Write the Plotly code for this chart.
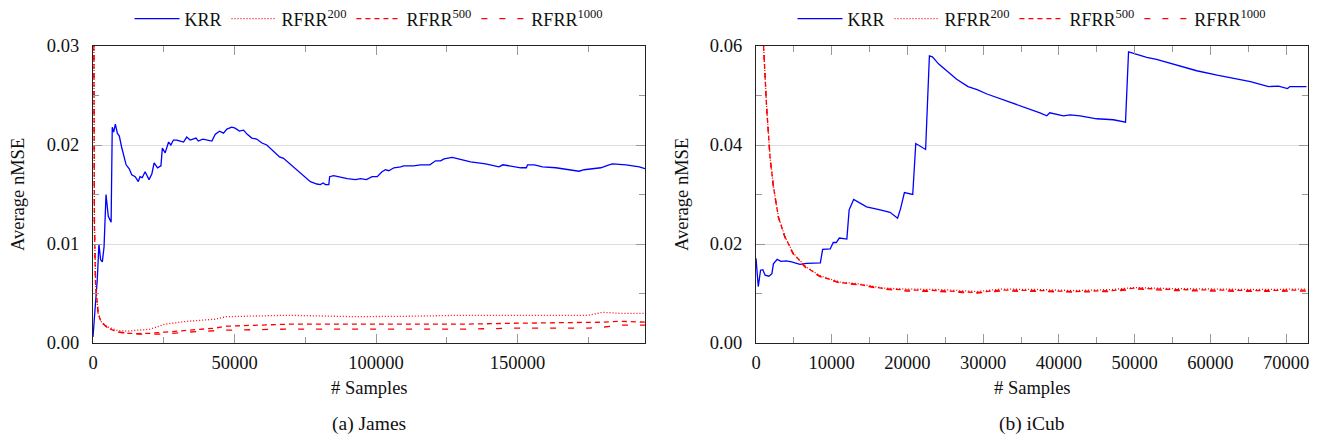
import plotly.graph_objects as go

# ---------------- (a) James ----------------
james_krr_x = [0, 700, 1500, 2100, 2700, 3300, 3900, 4600, 5400, 6400, 6800, 7300, 7900, 8600, 9300,
               10100, 10700, 11700, 12800, 13700, 14900, 16000, 16600, 17400, 18400, 19800, 20800,
               21600, 22800, 24000, 24500, 25500, 26700, 27500, 28400, 29600, 30800, 32000, 33100,
               34300, 36400, 37200, 38800, 40800, 42000, 43200, 44700, 46100, 47300, 49000, 50200,
               51700, 53200, 54400, 56100, 57800, 59700, 61400, 63200, 65900, 67300, 72100, 76800,
               79100, 80300, 81300, 82100, 83300, 83600, 85000, 87400, 89800, 92700, 94500, 96600,
               98600, 100400, 102100, 103300, 104500, 106300, 108700, 109800, 113300, 115700, 119000,
               121000, 122800, 124000, 126900, 130500, 133400, 138700, 143400, 144800, 146900, 151100,
               153100, 153500, 155900, 158800, 163500, 168200, 171700, 173500, 177000, 179400, 182300,
               183500, 188300, 193000, 195000]
james_krr_y = [0.0006, 0.003, 0.0064, 0.0100, 0.0084, 0.0082, 0.0097, 0.0150, 0.0128, 0.0122, 0.0218,
               0.0213, 0.0221, 0.0212, 0.0209, 0.0198, 0.0190, 0.0180, 0.0176, 0.0170, 0.0168, 0.0163,
               0.0168, 0.0167, 0.0173, 0.0165, 0.0171, 0.0182, 0.0177, 0.0179, 0.0197, 0.0192, 0.0203,
               0.0200, 0.0205, 0.0205, 0.0204, 0.0203, 0.0208, 0.0205, 0.0207, 0.0204, 0.0206, 0.0205,
               0.0204, 0.0211, 0.0214, 0.0212, 0.0216, 0.0218, 0.0217, 0.0214, 0.0215, 0.0211, 0.0207,
               0.0206, 0.0202, 0.0200, 0.0195, 0.0188, 0.01865, 0.01747, 0.0163, 0.01606, 0.0160,
               0.01616, 0.0160, 0.0160, 0.0168, 0.0169, 0.01673, 0.0166, 0.0165, 0.0166, 0.0165, 0.0168,
               0.0168, 0.0173, 0.0175, 0.0174, 0.0177, 0.01778, 0.0179, 0.0179, 0.0180, 0.0180, 0.0184,
               0.0184, 0.0186, 0.01875, 0.0185, 0.0183, 0.0181, 0.0178, 0.0180, 0.0179, 0.0177, 0.0177,
               0.0180, 0.0180, 0.0178, 0.0177, 0.0175, 0.01735, 0.0175, 0.0176, 0.0177, 0.0180, 0.0181,
               0.0180, 0.0178, 0.0176]

james_rf_x = [0, 200, 500, 900, 1300, 1800, 2900, 5300, 8800, 12400, 15900, 20000, 25400, 33600,
              43000, 47200, 69000, 92600, 111500, 130000, 150000, 175000, 180000, 186000, 195000]
james_rf200_y = [0.06, 0.03, 0.012, 0.006, 0.0045, 0.0030, 0.00215, 0.0016, 0.00125, 0.0012,
                 0.0013, 0.00138, 0.0019, 0.0022, 0.0024, 0.00266, 0.0028, 0.00266, 0.0027, 0.0028,
                 0.0028, 0.0028, 0.0031, 0.0030, 0.0030]
james_rf500_y = [0.06, 0.03, 0.012, 0.006, 0.0045, 0.0030, 0.0021, 0.0015, 0.0011, 0.00098,
                 0.00095, 0.00098, 0.0011, 0.0013, 0.0015, 0.0017, 0.0019, 0.0019, 0.0019, 0.0019,
                 0.0020, 0.0021, 0.0021, 0.0022, 0.0021]
james_rf1000_y = [0.06, 0.03, 0.012, 0.006, 0.0045, 0.0030, 0.0021, 0.0015, 0.0011, 0.00098,
                  0.0009, 0.0009, 0.0009, 0.0011, 0.0012, 0.0013, 0.0014, 0.0014, 0.0014, 0.0014,
                  0.0015, 0.0015, 0.0016, 0.0018, 0.0018]

# ---------------- (b) iCub ----------------
icub_krr_x = [0, 300, 600, 900, 1200, 1700, 2100, 2300, 2800, 3300, 4000, 4700, 5800, 6700, 8500,
              8800, 9800, 10200, 10600, 11000, 12000, 12300, 12900, 14600, 16400, 17700, 18700, 19100,
              19600, 20700, 21100, 22400, 22900, 23300, 24100, 26500, 28000, 29200, 30500, 31800,
              33100, 34900, 36200, 37500, 38400, 38800, 40600, 41500, 42800, 45000, 47200, 48800,
              49200, 49800, 51600, 52900, 55100, 58200, 60900, 63500, 65300, 67700, 69000, 70200,
              70500, 71400, 72700]
icub_krr_y = [0.0171, 0.0114, 0.0147, 0.0148, 0.0137, 0.0135, 0.0140, 0.0160, 0.0169, 0.0165, 0.0166,
              0.0164, 0.0159, 0.0161, 0.0162, 0.0189, 0.0190, 0.0203, 0.0203, 0.0212, 0.0210, 0.0269,
              0.0290, 0.0275, 0.0269, 0.0264, 0.0252, 0.0272, 0.0304, 0.0300, 0.0403, 0.0391, 0.0580,
              0.0578, 0.0564, 0.0533, 0.0518, 0.0512, 0.0503, 0.0496, 0.0490, 0.0479, 0.0472, 0.0465,
              0.0459, 0.0465, 0.0459, 0.0461, 0.0459, 0.0453, 0.0451, 0.0446, 0.0588, 0.0585, 0.0577,
              0.0573, 0.0564, 0.0550, 0.0541, 0.0533, 0.0528, 0.0518, 0.0519, 0.0514, 0.0518, 0.0518,
              0.0518]

icub_rf_x = [300, 700, 1000, 1400, 1850, 2300, 2950, 3800, 4900, 6500, 8450, 11100, 13300, 16800,
             19900, 24300, 29200, 32300, 37500, 42000, 47000, 50000, 55000, 60000, 66000, 72700]
icub_rf200_y = [0.12, 0.075, 0.060, 0.0478, 0.0377, 0.0317, 0.0256, 0.0216, 0.0182, 0.0155, 0.0136,
                0.0123, 0.0120, 0.0111, 0.0109, 0.0108, 0.0104, 0.0109, 0.0108, 0.0106, 0.0108,
                0.0112, 0.0110, 0.0109, 0.0108, 0.0109]
icub_rf500_y = [0.12, 0.075, 0.060, 0.0477, 0.0376, 0.0316, 0.0255, 0.0215, 0.0181, 0.0154, 0.0135,
                0.0122, 0.0119, 0.0110, 0.0107, 0.0106, 0.0102, 0.0107, 0.0106, 0.0104, 0.0106,
                0.0111, 0.0108, 0.0107, 0.0106, 0.0107]
icub_rf1000_y = [0.12, 0.075, 0.060, 0.0476, 0.0375, 0.0315, 0.0254, 0.0214, 0.0180, 0.0153, 0.0134,
                 0.0121, 0.0118, 0.0109, 0.0105, 0.0104, 0.0101, 0.0105, 0.0104, 0.0103, 0.0104,
                 0.0109, 0.0106, 0.0105, 0.0104, 0.0105]

series_names = ["KRR", "RFRR<sup>200</sup>", "RFRR<sup>500</sup>", "RFRR<sup>1000</sup>"]
y_title = "Average nMSE"
x_title = "# Samples"
captions = ["(a) James", "(b) iCub"]

W, H = 1320, 441
OFF = 8  # page body margin
FONT = "Times New Roman, Liberation Serif, serif"
BLUE = "#0000ff"
RED = "#ff0000"
DASHES = ["solid", "1px,2px", "5px,4px", "6px,12px"]


def px_x(p):
    return (p - OFF) / W


def px_y(p):
    return 1 - (p - OFF) / H


fig = go.Figure()

left = [(james_krr_x, james_krr_y), (james_rf_x, james_rf200_y),
        (james_rf_x, james_rf500_y), (james_rf_x, james_rf1000_y)]
right = [(icub_krr_x, icub_krr_y), (icub_rf_x, icub_rf200_y),
         (icub_rf_x, icub_rf500_y), (icub_rf_x, icub_rf1000_y)]

for i, (xs, ys) in enumerate(left):
    fig.add_trace(go.Scatter(x=xs, y=ys, mode="lines", name=series_names[i],
                             xaxis="x", yaxis="y", legend="legend",
                             line=dict(color=BLUE if i == 0 else RED, width=1.3, dash=DASHES[i])))
for i, (xs, ys) in enumerate(right):
    fig.add_trace(go.Scatter(x=xs, y=ys, mode="lines", name=series_names[i],
                             xaxis="x2", yaxis="y2", legend="legend2",
                             line=dict(color=BLUE if i == 0 else RED, width=1.3, dash=DASHES[i])))

tick_font = dict(family=FONT, size=18.5, color="#111")


def xaxis(dom, rng, dtick, anchor):
    return dict(domain=dom, range=rng, anchor=anchor, dtick=dtick, tick0=0, tickformat="d",
                automargin=False,
                showgrid=False, zeroline=False, showline=True, linecolor="#222", linewidth=1.3,
                mirror="allticks", ticks="inside", ticklen=9, tickwidth=1, tickcolor="#999",
                ticklabelstandoff=3,
                minor=dict(dtick=dtick / 2, tick0=0, ticks="inside", ticklen=6, tickcolor="#999",
                           tickwidth=1, showgrid=False),
                tickfont=tick_font, fixedrange=True)


def yaxis(dom, rng, dtick, anchor):
    return dict(domain=dom, range=rng, anchor=anchor, dtick=dtick, tick0=0, tickformat=".2f",
                automargin=False,
                showgrid=True, gridcolor="#dedede", gridwidth=1, zeroline=False,
                showline=True, linecolor="#222", linewidth=1.3,
                mirror="allticks", ticks="inside", ticklen=9, tickwidth=1, tickcolor="#999",
                ticklabelstandoff=9,
                minor=dict(dtick=dtick / 2, tick0=0, ticks="inside", ticklen=6, tickcolor="#999",
                           tickwidth=1, showgrid=False),
                tickfont=tick_font, fixedrange=True)


ydom = [px_y(343), px_y(46)]
legend_font = dict(family=FONT, size=18, color="#111")
fig.update_layout(
    width=W, height=H,
    margin=dict(l=0, r=0, t=0, b=0, autoexpand=False),
    paper_bgcolor="white", plot_bgcolor="white",
    font=dict(family=FONT, size=17, color="#111"),
    xaxis=xaxis([px_x(93), px_x(645)], [0, 195000], 50000, "y"),
    yaxis=yaxis(ydom, [0, 0.03], 0.01, "x"),
    xaxis2=xaxis([px_x(756), px_x(1308)], [0, 72900], 10000, "y2"),
    yaxis2=yaxis(ydom, [0, 0.06], 0.02, "x2"),
    legend=dict(orientation="h", x=px_x(369), xanchor="center", y=px_y(19), yanchor="middle",
                bgcolor="rgba(0,0,0,0)", font=legend_font, itemwidth=45),
    legend2=dict(orientation="h", x=px_x(1032), xanchor="center", y=px_y(19), yanchor="middle",
                 bgcolor="rgba(0,0,0,0)", font=legend_font, itemwidth=45),
    showlegend=True,
)

annots = []
for cx, ty in [(18, 195), (682, 195)]:
    annots.append(dict(x=px_x(cx), y=px_y(ty), xref="paper", yref="paper", text=y_title,
                       textangle=-90, showarrow=False, xanchor="center", yanchor="middle",
                       font=dict(family=FONT, size=18.5, color="#111")))
for k, cx in enumerate([369, 1032]):
    annots.append(dict(x=px_x(cx), y=px_y(388), xref="paper", yref="paper", text=x_title,
                       showarrow=False, xanchor="center", yanchor="middle",
                       font=dict(family=FONT, size=18.5, color="#111")))
    annots.append(dict(x=px_x(cx), y=px_y(424), xref="paper", yref="paper", text=captions[k],
                       showarrow=False, xanchor="center", yanchor="middle",
                       font=dict(family=FONT, size=19.5, color="#111")))
fig.update_layout(annotations=annots)

fig.write_html("out.html")
